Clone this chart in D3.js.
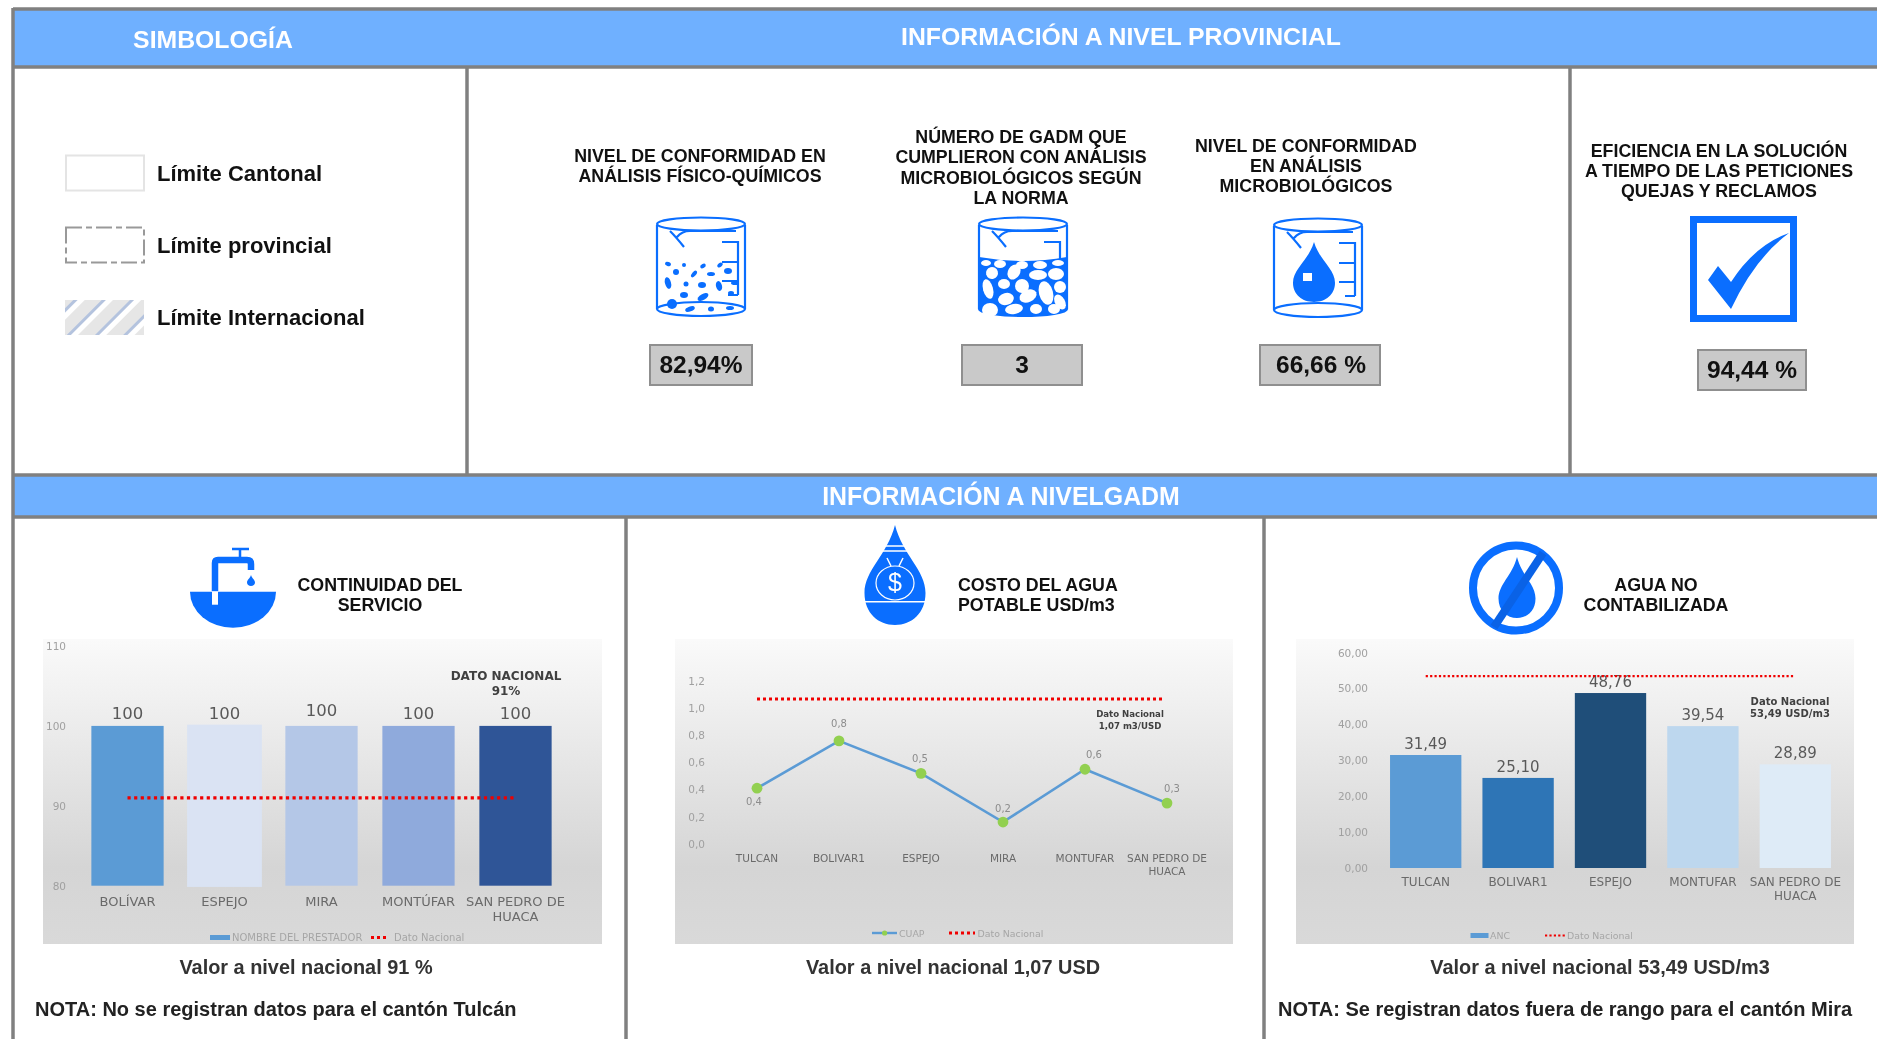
<!DOCTYPE html>
<html>
<head>
<meta charset="utf-8">
<script src="https://cdn.jsdelivr.net/npm/d3@7"></script>
<style>
  html, body { margin: 0; padding: 0; background: #fff; overflow: hidden; }
  svg { display: block; filter: blur(0.45px); }
  text { font-family: "Liberation Sans", Arial, sans-serif; }
  .chart text { font-family: "DejaVu Sans", sans-serif; }
</style>
</head>
<body>
<svg id="board" width="1877" height="1039"></svg>
<script>
// continuidad del servicio
var contCantones = ["BOLÍVAR", "ESPEJO", "MIRA", "MONTÚFAR", "SAN PEDRO DE HUACA"];
var contValues = [100, 100, 100, 100, 100];
var contNacional = 91;
var contTicks = [80, 90, 100, 110];

// costo del agua
var costoCantones = ["TULCAN", "BOLIVAR1", "ESPEJO", "MIRA", "MONTUFAR", "SAN PEDRO DE HUACA"];
var costoValues = [0.41, 0.76, 0.52, 0.16, 0.55, 0.30];
var costoNacional = 1.07;
var costoTicks = [0, 0.2, 0.4, 0.6, 0.8, 1.0, 1.2];

// agua no contabilizada
var ancCantones = ["TULCAN", "BOLIVAR1", "ESPEJO", "MONTUFAR", "SAN PEDRO DE HUACA"];
var ancValues = [31.49, 25.10, 48.76, 39.54, 28.89];
var ancNacional = 53.49;
var ancTicks = [0, 10, 20, 30, 40, 50, 60];

var kpiLabels = ["82,94%", "3", "66,66 %", "94,44 %"];

var BLUE = "#0a6eff", LINE = "#808080", BAND = "#6fb0ff";

var svg = d3.select("#board");
var es = d3.formatLocale({decimal: ",", thousands: ".", grouping: [3], currency: ["$", ""]});

var defs = svg.append("defs");
var grad = defs.append("linearGradient").attr("id", "panelGrad").attr("x1", 0).attr("y1", 0).attr("x2", 0).attr("y2", 1);
grad.append("stop").attr("offset", "0%").attr("stop-color", "#fafafa");
grad.append("stop").attr("offset", "75%").attr("stop-color", "#d5d5d5");
grad.append("stop").attr("offset", "100%").attr("stop-color", "#d9d9d9");

var hatch = defs.append("pattern").attr("id", "hatch").attr("width", 20).attr("height", 20)
  .attr("patternUnits", "userSpaceOnUse").attr("patternTransform", "rotate(45) translate(4,0)");
hatch.append("rect").attr("width", 20).attr("height", 20).attr("fill", "#e6e6e6");
hatch.append("rect").attr("width", 3).attr("height", 20).attr("fill", "#b4c3de");
hatch.append("rect").attr("x", 3).attr("width", 5).attr("height", 20).attr("fill", "#fff");

function label(parent, txt, x, y, size, opts) {
  opts = opts || {};
  return parent.append("text").attr("x", x).attr("y", y)
    .attr("font-size", size)
    .attr("font-weight", opts.weight || "bold")
    .attr("fill", opts.fill || "#111")
    .attr("text-anchor", opts.anchor || "middle")
    .text(txt);
}

function titleLines(lines, x, ys, anchor) {
  lines.forEach(function(l, i) {
    label(svg, l, x, ys[i], 17.8, {anchor: anchor});
  });
}

// frame and blue bands
svg.append("rect").attr("x", 13).attr("y", 9).attr("width", 1864).attr("height", 58).attr("fill", BAND);
svg.append("rect").attr("x", 13).attr("y", 475).attr("width", 1864).attr("height", 42).attr("fill", BAND);
[[13, 9, 1877, 9], [13, 67, 1877, 67], [13, 475, 1877, 475], [13, 517, 1877, 517],
 [13, 8, 13, 1039], [467, 67, 467, 475], [1570, 67, 1570, 475], [626, 517, 626, 1039], [1264, 517, 1264, 1039]]
.forEach(function(l) {
  svg.append("line").attr("x1", l[0]).attr("y1", l[1]).attr("x2", l[2]).attr("y2", l[3])
    .attr("stroke", LINE).attr("stroke-width", 3.5);
});

label(svg, "SIMBOLOGÍA", 213, 48, 24.8, {fill: "#fff"});
label(svg, "INFORMACIÓN A NIVEL PROVINCIAL", 1121, 45, 24.8, {fill: "#fff"});
label(svg, "INFORMACIÓN A NIVELGADM", 1001, 505, 24.9, {fill: "#fff"});

// simbologia
svg.append("rect").attr("x", 66).attr("y", 155.5).attr("width", 78).attr("height", 35)
  .attr("fill", "#fff").attr("stroke", "#e4e4e4").attr("stroke-width", 2);
svg.append("rect").attr("x", 66).attr("y", 227.5).attr("width", 78).attr("height", 35)
  .attr("fill", "#fff").attr("stroke", "#999").attr("stroke-width", 2).attr("stroke-dasharray", "16 4 6 4");
svg.append("rect").attr("x", 65).attr("y", 300).attr("width", 79).attr("height", 35).attr("fill", "url(#hatch)");
label(svg, "Límite Cantonal", 157, 181, 22, {anchor: "start"});
label(svg, "Límite provincial", 157, 253, 22, {anchor: "start"});
label(svg, "Límite Internacional", 157, 325, 22, {anchor: "start"});

// KPI titles
titleLines(["NIVEL DE CONFORMIDAD EN", "ANÁLISIS FÍSICO-QUÍMICOS"], 700, [162, 182]);
titleLines(["NÚMERO DE GADM QUE", "CUMPLIERON CON ANÁLISIS", "MICROBIOLÓGICOS SEGÚN", "LA NORMA"], 1021, [143, 163, 183.5, 204]);
titleLines(["NIVEL DE CONFORMIDAD", "EN ANÁLISIS", "MICROBIOLÓGICOS"], 1306, [151.5, 172, 192]);
titleLines(["EFICIENCIA EN LA SOLUCIÓN", "A TIEMPO DE LAS PETICIONES", "QUEJAS Y RECLAMOS"], 1719, [156.5, 177, 197]);

// KPI boxes
function kpiBox(x0, x1, y0, y1, txt, tx) {
  svg.append("rect").attr("x", x0).attr("y", y0).attr("width", x1 - x0).attr("height", y1 - y0)
    .attr("fill", "#c9c9c9").attr("stroke", "#8f8f8f").attr("stroke-width", 2);
  label(svg, txt, tx, y1 - 12, 24.5);
}
kpiBox(650, 752, 345, 385, kpiLabels[0], 701);
kpiBox(962, 1082, 345, 385, kpiLabels[1], 1022);
kpiBox(1260, 1380, 345, 385, kpiLabels[2], 1321);
kpiBox(1698, 1806, 350, 390, kpiLabels[3], 1752);

function dropPath(cx, top, bottom, w) {
  var h = bottom - top;
  return "M" + cx + "," + top +
    "C" + (cx + .25 * w) + "," + (top + .3 * h) + " " + (cx + w) + "," + (top + .45 * h) + " " + (cx + w) + "," + (top + .68 * h) +
    "C" + (cx + w) + "," + (top + .88 * h) + " " + (cx + .55 * w) + "," + bottom + " " + cx + "," + bottom +
    "C" + (cx - .55 * w) + "," + bottom + " " + (cx - w) + "," + (top + .88 * h) + " " + (cx - w) + "," + (top + .68 * h) +
    "C" + (cx - w) + "," + (top + .45 * h) + " " + (cx - .25 * w) + "," + (top + .3 * h) + " " + cx + "," + top + "Z";
}

// beaker drawn in a 90x100 box
function beaker(x, y) {
  var g = svg.append("g").attr("transform", "translate(" + x + "," + y + ")");
  g.append("path").attr("fill", "none").attr("stroke", BLUE).attr("stroke-width", 2.2)
    .attr("d", "M1,8V92M89,8V92M1,92A44,7 0 0 0 89,92M1,92A44,7 0 0 1 89,92" +
               "M14,14Q20,20 28,30M21,20Q26,14 34,14H80" +
               "M66,25H82V78M66,45H82M66,64H82M72,78H82");
  g.append("ellipse").attr("cx", 45).attr("cy", 7).attr("rx", 44).attr("ry", 6.5)
    .attr("fill", "none").attr("stroke", BLUE).attr("stroke-width", 2.2);
  return g;
}

var specks = [[12,47,3,2,20],[28,48,2,2,0],[47,49,3,2,-30],[64,48,3,2,-40],[20,55,3,3,0],[38,57,4,2,-50],[55,57,4,2,0],[72,54,4,3,0],
  [12,66,3,6,-15],[30,67,2.5,2.5,0],[46,68,4,3,0],[63,69,3,5,-15],[79,66,4,2,0],[28,78,4,3,0],[47,80,6,3,-30],[75,76,3,2,0],
  [16,87,5,5,0],[34,92,5,2.5,-20],[55,92,3,2.5,0],[74,91,4,2,0]];
var b1 = beaker(656, 217);
b1.selectAll("ellipse.sp").data(specks).enter().append("ellipse").attr("class", "sp")
  .attr("rx", function(d) { return d[2]; }).attr("ry", function(d) { return d[3]; })
  .attr("transform", function(d) { return "translate(" + d[0] + "," + d[1] + ") rotate(" + d[4] + ")"; })
  .attr("fill", BLUE);

var b2 = beaker(978, 217);
b2.append("path").attr("fill", BLUE).attr("d", "M1,40Q45,48 89,40V92A44,7 0 0 1 1,92Z");
var rocks = [[8,46,5,3,0],[22,47,6,4,0],[44,48,6,4,0],[62,48,7,4,0],[80,46,6,3,0],[14,56,6,6,30],[36,55,6,8,30],[60,58,9,5,0],[78,57,8,6,0],
  [10,72,5,10,-15],[26,67,6,5,0],[44,69,7,7,0],[68,76,7,12,-15],[82,70,6,6,0],[28,82,8,6,-15],[50,79,9,6,-25],[82,85,5,8,-30],
  [12,93,8,7,0],[36,92,9,5,-10],[58,92,6,5,0],[76,92,6,5,0]];
b2.selectAll("ellipse.rk").data(rocks).enter().append("ellipse").attr("class", "rk")
  .attr("rx", function(d) { return d[2]; }).attr("ry", function(d) { return d[3]; })
  .attr("transform", function(d) { return "translate(" + d[0] + "," + d[1] + ") rotate(" + d[4] + ")"; })
  .attr("fill", "#fff");

var b3 = beaker(1273, 218);
b3.append("path").attr("fill", BLUE).attr("d", dropPath(41, 24, 84, 21));
b3.append("rect").attr("x", 30).attr("y", 55).attr("width", 9).attr("height", 8).attr("fill", "#fff");

// check box
svg.append("rect").attr("x", 1693.5).attr("y", 219.5).attr("width", 100).attr("height", 99)
  .attr("fill", "#fff").attr("stroke", BLUE).attr("stroke-width", 7);
svg.append("path").attr("fill", BLUE)
  .attr("d", "M1789,233Q1755,245 1731,282L1718,266L1708,280L1731,309Q1755,258 1789,233Z");

// faucet
svg.append("path").attr("fill", BLUE).attr("d", "M190,591.7H276A43,36 0 0 1 190,591.7Z");
svg.append("rect").attr("x", 212).attr("y", 591.7).attr("width", 6).attr("height", 13).attr("fill", "#fff");
svg.append("path").attr("fill", "none").attr("stroke", BLUE).attr("stroke-width", 6.5)
  .attr("d", "M215,591V563Q215,560 218,560H247Q251,560 251,564V570");
svg.append("path").attr("fill", "none").attr("stroke", BLUE).attr("stroke-width", 2.5)
  .attr("d", "M232,549H249M240,549V557");
svg.append("path").attr("fill", BLUE).attr("d", dropPath(251, 575, 586, 4));

// money drop
svg.append("path").attr("fill", BLUE).attr("d", dropPath(895, 525, 625, 30.5));
svg.append("ellipse").attr("cx", 895).attr("cy", 583).attr("rx", 19).attr("ry", 17)
  .attr("fill", "none").attr("stroke", "#fff").attr("stroke-width", 1.2);
svg.append("path").attr("fill", "none").attr("stroke", "#fff").attr("stroke-width", 1.5)
  .attr("d", "M884,546H906M883,551H907M887,558L891,566M903,558L899,566M865,601.7H926");
label(svg, "$", 895, 591, 25, {fill: "#fff", weight: "normal"});

// no-water sign
svg.append("path").attr("fill", BLUE).attr("d", dropPath(1517, 557, 618, 18.5));
svg.append("ellipse").attr("cx", 1516).attr("cy", 588).attr("rx", 43).attr("ry", 42.5)
  .attr("fill", "none").attr("stroke", BLUE).attr("stroke-width", 8);
svg.append("line").attr("x1", 1543).attr("y1", 553).attr("x2", 1494).attr("y2", 627)
  .attr("stroke", "#0a62e6").attr("stroke-width", 8);

// panel titles and notes
titleLines(["CONTINUIDAD DEL", "SERVICIO"], 380, [590.7, 610.7]);
titleLines(["COSTO DEL AGUA", "POTABLE USD/m3"], 958, [590.7, 610.7], "start");
titleLines(["AGUA NO", "CONTABILIZADA"], 1656, [590.7, 610.7]);
label(svg, "Valor a nivel nacional 91 %", 306, 974, 19.9, {fill: "#333"});
label(svg, "Valor a nivel nacional 1,07 USD", 953, 974, 19.9, {fill: "#333"});
label(svg, "Valor a nivel nacional 53,49 USD/m3", 1600, 974, 19.9, {fill: "#333"});
label(svg, "NOTA: No se registran datos para el cantón Tulcán", 35, 1015.7, 20, {anchor: "start", fill: "#222"});
label(svg, "NOTA: Se registran datos fuera de rango para el cantón Mira", 1278, 1015.7, 20, {anchor: "start", fill: "#222"});

// chart shell: gradient panel + axes
function chartFrame(cfg) {
  var g = svg.append("g").attr("class", "chart");
  g.append("rect").attr("x", cfg.panel[0]).attr("y", 639).attr("width", cfg.panel[1] - cfg.panel[0]).attr("height", 305)
    .attr("fill", "url(#panelGrad)");

  var x = d3.scaleBand().domain(cfg.cats).range(cfg.xRange).paddingInner(cfg.inner).paddingOuter(cfg.inner / 2);
  var y = d3.scaleLinear().domain(cfg.yDomain).range(cfg.yRange);

  var yAxis = g.append("g").attr("transform", "translate(" + cfg.tickX + ",0)")
    .call(d3.axisLeft(y).tickValues(cfg.ticks).tickSize(0).tickPadding(0).tickFormat(cfg.fmt));
  yAxis.select(".domain").remove();
  yAxis.selectAll("text").attr("font-size", 10.5).attr("fill", "#a0a0a0").attr("font-family", null);

  var xAxis = g.append("g").attr("transform", "translate(0," + cfg.yRange[0] + ")")
    .call(d3.axisBottom(x).tickSize(0).tickPadding(cfg.catPad));
  xAxis.select(".domain").remove();
  xAxis.selectAll("text").attr("font-size", cfg.catSize).attr("fill", "#6a6a6a").attr("font-family", null)
    .each(function(d) {
      var t = d3.select(this);
      if (d.length < 15) return;
      var cut = d.lastIndexOf(" ");
      t.text(null);
      t.append("tspan").attr("x", 0).attr("dy", ".71em").text(d.slice(0, cut));
      t.append("tspan").attr("x", 0).attr("dy", cfg.catLead).text(d.slice(cut + 1));
    });
  return {g: g, x: x, y: y};
}

function nationalLine(c, cats, value, width, gap) {
  var x0 = c.x(cats[0]) + c.x.bandwidth() / 2;
  var x1 = c.x(cats[cats.length - 1]) + c.x.bandwidth() / 2;
  c.g.append("line").attr("x1", x0).attr("x2", x1).attr("y1", c.y(value)).attr("y2", c.y(value))
    .attr("stroke", "#f00000").attr("stroke-width", width).attr("stroke-dasharray", width + " " + gap);
}

function barMarks(c, cats, values, colors, fmt, size, gap) {
  var rows = cats.map(function(d, i) { return {cat: d, v: values[i], color: colors[i]}; });
  c.g.selectAll("rect.bar").data(rows).enter().append("rect").attr("class", "bar")
    .attr("x", function(d) { return c.x(d.cat); })
    .attr("width", c.x.bandwidth())
    .attr("y", function(d) { return c.y(d.v); })
    .attr("height", function(d) { return c.y.range()[0] - c.y(d.v); })
    .attr("fill", function(d) { return d.color; });
  c.g.selectAll("text.val").data(rows).enter().append("text").attr("class", "val")
    .attr("x", function(d) { return c.x(d.cat) + c.x.bandwidth() / 2; })
    .attr("y", function(d) { return c.y(d.v) - gap; })
    .attr("text-anchor", "middle").attr("font-size", size).attr("fill", "#595959")
    .text(function(d) { return fmt(d.v); });
}

function legendText(c, txt, x, y, size) {
  c.g.append("text").attr("x", x).attr("y", y).attr("font-size", size).attr("fill", "#a6a6a6").text(txt);
}
function legendDots(c, x0, x1, y, w) {
  c.g.append("line").attr("x1", x0).attr("x2", x1).attr("y1", y).attr("y2", y)
    .attr("stroke", "#f00000").attr("stroke-width", w).attr("stroke-dasharray", w + " " + w);
}
function note(c, lines, x, ys, size) {
  lines.forEach(function(l, i) {
    c.g.append("text").attr("x", x).attr("y", ys[i]).attr("text-anchor", "middle")
      .attr("font-size", size).attr("font-weight", "bold").attr("fill", "#404040").text(l);
  });
}

// chart 1
var c1 = chartFrame({panel: [43, 602], cats: contCantones, xRange: [79, 564], inner: 0.255, yDomain: [80, 110], yRange: [885.7, 646],
  ticks: contTicks, tickX: 66, fmt: d3.format("d"), catPad: 11.5, catSize: 13, catLead: 14.5});
barMarks(c1, contCantones, contValues, ["#5b9bd5", "#dae3f3", "#b4c7e7", "#8faadc", "#2f5597"], d3.format("d"), 16.5, 7);
// the Espejo bar and the Mira label sit a little off in the source picture
c1.g.selectAll("rect.bar").filter(function(d) { return d.cat == "ESPEJO"; })
  .attr("stroke", "#dae3f3").attr("stroke-width", 2.5);
c1.g.selectAll("text.val").filter(function(d) { return d.cat == "MIRA"; })
  .attr("dy", -2.5);
nationalLine(c1, contCantones, contNacional, 3.2, 3.4);
note(c1, ["DATO NACIONAL", "91%"], 506, [680, 695], 12);
c1.g.append("rect").attr("x", 210).attr("y", 935).attr("width", 20).attr("height", 5).attr("fill", "#5b9bd5");
legendText(c1, "NOMBRE DEL PRESTADOR", 232, 941, 10);
legendDots(c1, 371, 389, 937.5, 3);
legendText(c1, "Dato Nacional", 394, 941, 10);

// chart 2
var c2 = chartFrame({panel: [675, 1233], cats: costoCantones, xRange: [716, 1208], inner: 0, yDomain: [0, 1.2], yRange: [843.7, 681.3],
  ticks: costoTicks, tickX: 705, fmt: es.format(".1f"), catPad: 10.5, catSize: 10.5, catLead: 13.5});
var costoLine = d3.line()
  .x(function(d, i) { return c2.x(costoCantones[i]) + c2.x.bandwidth() / 2; })
  .y(function(d) { return c2.y(d); });
c2.g.append("path").datum(costoValues).attr("d", costoLine)
  .attr("fill", "none").attr("stroke", "#5b9bd5").attr("stroke-width", 2.6);
c2.g.selectAll("circle.pt").data(costoValues).enter().append("circle").attr("class", "pt")
  .attr("cx", function(d, i) { return c2.x(costoCantones[i]) + c2.x.bandwidth() / 2; })
  .attr("cy", function(d) { return c2.y(d); })
  .attr("r", 5.4).attr("fill", "#92d050");
var costoDx = [-3, 0, -1, 0, 9, 5], costoDy = [17, -14, -11, -10, -11, -11];
c2.g.selectAll("text.val").data(costoValues).enter().append("text").attr("class", "val")
  .attr("x", function(d, i) { return c2.x(costoCantones[i]) + c2.x.bandwidth() / 2 + costoDx[i]; })
  .attr("y", function(d, i) { return c2.y(d) + costoDy[i]; })
  .attr("text-anchor", "middle").attr("font-size", 10).attr("fill", "#8c8c8c")
  .text(es.format(".1f"));
// the line stops a little short of the last point in the source
c2.g.append("line").attr("x1", c2.x(costoCantones[0]) + c2.x.bandwidth() / 2)
  .attr("x2", c2.x(costoCantones[5]) + c2.x.bandwidth() / 2 - 3)
  .attr("y1", c2.y(costoNacional)).attr("y2", c2.y(costoNacional))
  .attr("stroke", "#f00000").attr("stroke-width", 3).attr("stroke-dasharray", "3 3");
note(c2, ["Dato Nacional", "1,07 m3/USD"], 1130, [716.7, 729], 8.6);
c2.g.append("line").attr("x1", 872).attr("x2", 897).attr("y1", 933).attr("y2", 933).attr("stroke", "#5b9bd5").attr("stroke-width", 2.4);
c2.g.append("circle").attr("cx", 884.6).attr("cy", 933).attr("r", 2.6).attr("fill", "#92d050");
legendText(c2, "CUAP", 899, 936.5, 9.4);
legendDots(c2, 949, 975, 933, 3);
legendText(c2, "Dato Nacional", 977.5, 936.5, 9.4);

// chart 3
var c3 = chartFrame({panel: [1296, 1854], cats: ancCantones, xRange: [1379.5, 1841.5], inner: 0.228, yDomain: [0, 60], yRange: [868, 652.7],
  ticks: ancTicks, tickX: 1368, fmt: es.format(".2f"), catPad: 9.5, catSize: 12, catLead: 14});
barMarks(c3, ancCantones, ancValues, ["#5b9bd5", "#2e75b6", "#1f4e79", "#bdd7ee", "#deebf7"], es.format(".2f"), 15, 6);
nationalLine(c3, ancCantones, ancNacional, 2.2, 2.2);
note(c3, ["Dato Nacional", "53,49 USD/m3"], 1790, [705, 717], 10);
c3.g.append("rect").attr("x", 1470.5).attr("y", 933).attr("width", 18).attr("height", 5).attr("fill", "#5b9bd5");
legendText(c3, "ANC", 1490, 939, 9.4);
legendDots(c3, 1545, 1566, 935.5, 2.2);
legendText(c3, "Dato Nacional", 1567, 939, 9.4);
</script>
</body>
</html>
